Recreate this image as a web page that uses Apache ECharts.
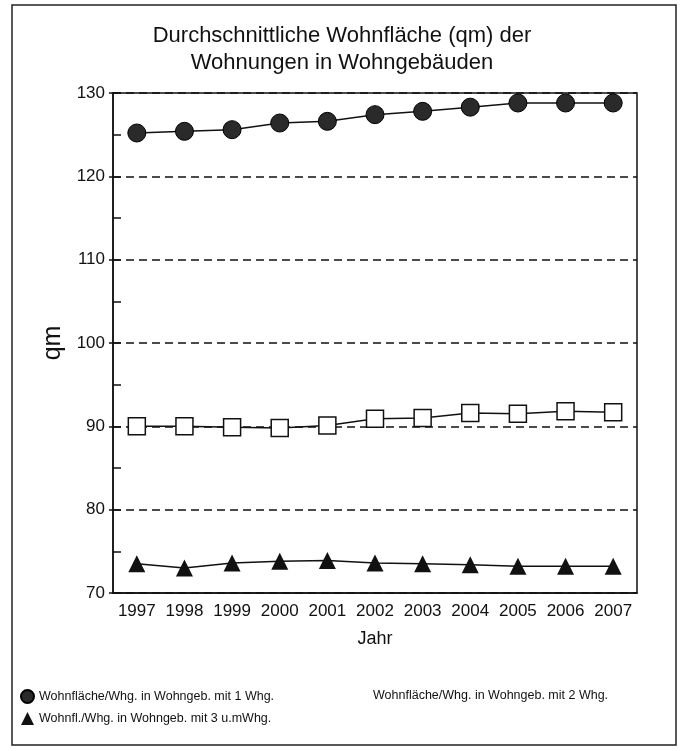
<!DOCTYPE html>
<html><head><meta charset="utf-8">
<script src="https://cdn.jsdelivr.net/npm/echarts@6/dist/echarts.min.js"></script>
<style>html,body{margin:0;padding:0;background:#fff}#c{width:682px;height:751px}</style>
</head><body><div id="c"></div>
<script>
const years = ['1997','1998','1999','2000','2001','2002','2003','2004','2005','2006','2007'];
const einWhg = [125.2,125.4,125.6,126.4,126.6,127.4,127.8,128.3,128.8,128.8,128.8];
const zweiWhg = [90.0,90.0,89.9,89.8,90.1,90.9,91.0,91.6,91.5,91.8,91.7];
const dreiWhg = [73.5,73.0,73.6,73.8,73.9,73.6,73.5,73.4,73.2,73.2,73.2];
const names = ['Wohnfläche/Whg. in Wohngeb. mit 1 Whg.','Wohnfläche/Whg. in Wohngeb. mit 2 Whg.','Wohnfl./Whg. in Wohngeb. mit 3 u.mWhg.'];

const sans = '"Liberation Sans", Arial, sans-serif';
const chart = echarts.init(document.getElementById('c'));
chart.setOption({
  animation:false,
  backgroundColor:'#fff',
  title:{text:'Durchschnittliche Wohnfläche (qm) der\nWohnungen in Wohngebäuden', left:337, textAlign:'center', top:17,
    textStyle:{fontFamily:sans, fontWeight:'normal', fontSize:22, lineHeight:27, color:'#111'}},
  graphic:[{type:'rect', shape:{x:12,y:5,width:664,height:740}, style:{fill:'none', stroke:'#222', lineWidth:1.5}, silent:true}],
  legend:[
    {left:15, top:684, orient:'vertical', itemGap:8, itemWidth:13, itemHeight:13,
      data:[{name:names[0], icon:'circle'}, {name:names[2], icon:'triangle'}],
      textStyle:{fontFamily:sans, fontSize:12.5, color:'#111'}},
    {left:350, top:684, itemWidth:13, itemHeight:13, data:[{name:names[1], icon:'none'}],
      textStyle:{fontFamily:sans, fontSize:12.5, color:'#111'}}
  ],
  grid:{left:113, right:45, top:93, bottom:158, show:true, borderColor:'#111', borderWidth:1.5},
  xAxis:[
    {type:'category', data:years, boundaryGap:true, name:'Jahr', nameLocation:'middle', nameGap:37,
      nameTextStyle:{fontFamily:sans, fontSize:18, color:'#111'},
      axisLine:{lineStyle:{color:'#111', width:1.5}},
      axisTick:{alignWithLabel:true, length:8, lineStyle:{color:'#111', width:1.5}},
      axisLabel:{interval:0, fontFamily:sans, fontSize:17, color:'#111', margin:10},
      splitLine:{show:false}},
    {type:'category', data:years, boundaryGap:true, position:'bottom',
      axisLine:{show:false}, axisLabel:{show:false},
      axisTick:{inside:true, alignWithLabel:true, length:11, lineStyle:{color:'#111', width:1.5}}, splitLine:{show:false}}
  ],
  yAxis:[
    {type:'value', min:70, max:130, interval:10, name:'qm', nameLocation:'middle', nameGap:28, nameRotate:90,
      nameTextStyle:{fontFamily:sans, fontSize:25, color:'#111'},
      axisLine:{show:true, lineStyle:{color:'#111', width:1.5}},
      axisTick:{show:true, length:4, lineStyle:{color:'#111', width:1.5}},
      axisLabel:{fontFamily:sans, fontSize:17, color:'#111', margin:8},
      splitLine:{show:true, lineStyle:{color:'#111', width:1.5, type:[8,5]}}},
    {type:'value', min:70, max:130, interval:10, position:'left',
      axisLine:{show:false}, axisLabel:{show:false}, splitLine:{show:false},
      axisTick:{show:true, inside:true, length:8, lineStyle:{color:'#111', width:1.5}},
      minorTick:{show:true, splitNumber:2, length:8, lineStyle:{color:'#111', width:1.5}}}
  ],
  series:[
    {name:names[0], type:'line', data:einWhg, symbol:'circle', symbolSize:18,
      lineStyle:{color:'#111', width:1.5}, itemStyle:{color:'#2a2a2a', borderColor:'#000', borderWidth:1}},
    {name:names[1], type:'line', data:zweiWhg, symbol:'rect', symbolSize:17,
      lineStyle:{color:'#111', width:1.5}, itemStyle:{color:'#fff', borderColor:'#111', borderWidth:1.5}},
    {name:names[2], type:'line', data:dreiWhg, symbol:'triangle', symbolSize:17,
      lineStyle:{color:'#111', width:1.5}, itemStyle:{color:'#111'}}
  ]
});
</script></body></html>
